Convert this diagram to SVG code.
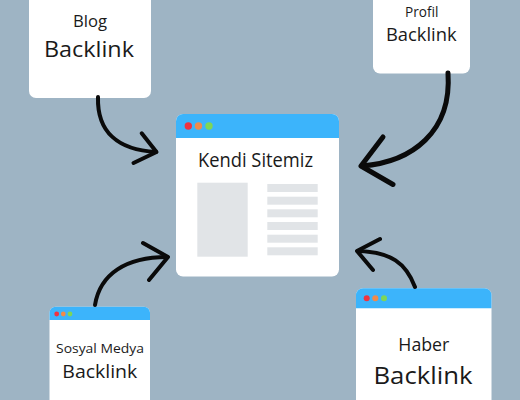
<svg xmlns="http://www.w3.org/2000/svg" width="520" height="400" viewBox="0 0 520 400">
<defs>
<style>
.card{fill:#ffffff;}
.hdr{fill:#3cb4fb;}
.red{fill:#ef3340;}
.org{fill:#f18a4a;}
.grn{fill:#7fd656;}
.gray{fill:#e1e4e7;}
.t{font-family:"Open Sans","Noto Sans","Liberation Sans",sans-serif;fill:#1a1a1a;text-anchor:middle;}
.arr{fill:none;stroke:#0a0a0a;stroke-linecap:round;stroke-linejoin:round;}
</style>
</defs>
<rect x="0" y="0" width="520" height="400" fill="#9eb4c4"/>

<g id="blog">
<rect class="card" x="29" y="-10" width="122" height="108" rx="7"/>
<text class="t" x="90" y="27" font-size="16" textLength="34" lengthAdjust="spacingAndGlyphs">Blog</text>
<text class="t" x="89" y="57" font-size="22" textLength="90" lengthAdjust="spacingAndGlyphs">Backlink</text>
</g>

<g id="profil">
<rect class="card" x="373" y="-10" width="97" height="83.5" rx="7"/>
<text class="t" x="421.7" y="17.3" font-size="14" textLength="33.3" lengthAdjust="spacingAndGlyphs">Profil</text>
<text class="t" x="421.3" y="40.7" font-size="19" textLength="70.7" lengthAdjust="spacingAndGlyphs">Backlink</text>
</g>

<g id="kendi">
<rect class="card" x="176" y="114" width="163" height="162.5" rx="7"/>
<path class="hdr" d="M176,138 V121 a7,7 0 0 1 7,-7 H332 a7,7 0 0 1 7,7 V138 Z"/>
<circle class="red" cx="188.3" cy="126" r="3.7"/>
<circle class="org" cx="198.5" cy="126" r="3.7"/>
<circle class="grn" cx="209" cy="126" r="3.7"/>
<text class="t" x="255.5" y="167" font-size="19.5" textLength="115" lengthAdjust="spacingAndGlyphs">Kendi Sitemiz</text>
<rect class="gray" x="197.3" y="182.7" width="50.4" height="74"/>
<rect class="gray" x="267.3" y="184" width="50.4" height="8"/>
<rect class="gray" x="267.3" y="196.7" width="50.4" height="8"/>
<rect class="gray" x="267.3" y="209.3" width="50.4" height="8"/>
<rect class="gray" x="267.3" y="222" width="50.4" height="8"/>
<rect class="gray" x="267.3" y="234.7" width="50.4" height="8"/>
<rect class="gray" x="267.3" y="247.3" width="50.4" height="8"/>
</g>

<g id="sosyal">
<rect class="card" x="49.5" y="306.7" width="100.5" height="110" rx="6"/>
<path class="hdr" d="M49.5,320 V312.7 a6,6 0 0 1 6,-6 H144 a6,6 0 0 1 6,6 V320 Z"/>
<circle class="red" cx="56.7" cy="314" r="2.4"/>
<circle class="org" cx="63.3" cy="314" r="2.4"/>
<circle class="grn" cx="70" cy="314" r="2.4"/>
<text class="t" x="100" y="353.3" font-size="13" textLength="88" lengthAdjust="spacingAndGlyphs">Sosyal Medya</text>
<text class="t" x="99.8" y="378.3" font-size="19" textLength="75" lengthAdjust="spacingAndGlyphs">Backlink</text>
</g>

<g id="haber">
<rect class="card" x="356" y="288.3" width="135.5" height="130" rx="7"/>
<path class="hdr" d="M356,308.3 V295.3 a7,7 0 0 1 7,-7 H484.5 a7,7 0 0 1 7,7 V308.3 Z"/>
<circle class="red" cx="366.7" cy="298.3" r="3"/>
<circle class="org" cx="375.3" cy="298.3" r="3"/>
<circle class="grn" cx="384" cy="298.3" r="3"/>
<text class="t" x="423.8" y="350.7" font-size="17.5" textLength="51" lengthAdjust="spacingAndGlyphs">Haber</text>
<text class="t" x="423" y="384" font-size="24.5" textLength="99" lengthAdjust="spacingAndGlyphs">Backlink</text>
</g>

<g id="connectors">
<path class="arr" stroke-width="4" d="M98,97 C97,132 118,150 156,152"/>
<path class="arr" stroke-width="4" d="M141.7,133.3 L156.5,152 L133.5,163"/>
<path class="arr" stroke-width="5" d="M448,73 C452,132 412,162 362,166"/>
<path class="arr" stroke-width="5" d="M383,137 L361,166 L393,184.5"/>
<path class="arr" stroke-width="4" d="M95,305 C100,274 126,257 167,257"/>
<path class="arr" stroke-width="4" d="M143,243 L168,257 L149,280"/>
<path class="arr" stroke-width="4" d="M415,287 C406,263 391,252 358,251"/>
<path class="arr" stroke-width="4" d="M380,239 L357,251 L373,270"/>
</g>
</svg>
